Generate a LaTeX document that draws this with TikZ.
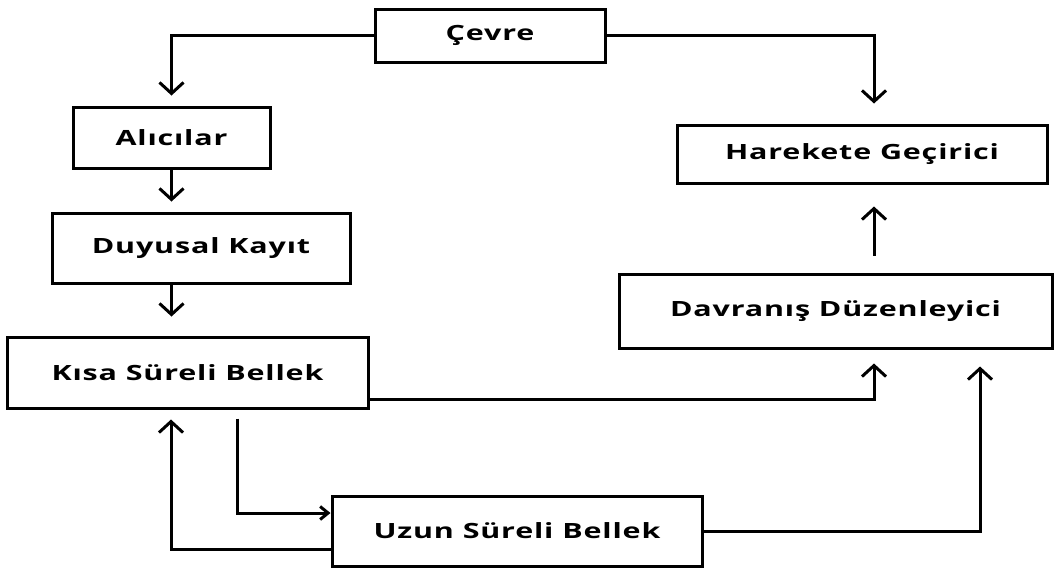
\documentclass[tikz,border=0pt]{standalone}
\usepackage{fontspec}
\setmainfont{Open Sans}[FakeStretch=1.45, LetterSpace=4]
\usetikzlibrary{arrows.meta, positioning, calc}

\begin{document}
\begin{tikzpicture}[
    x=1pt, y=-1pt,
    box/.style={rectangle, draw, line width=3pt, align=center, font=\fontsize{21}{25}\selectfont\bfseries},
    arrow/.style={-{Straight Barb[length=11pt, width=24pt]}, line width=3pt},
    thinarrow/.style={-{Straight Barb[length=8pt, width=13pt]}, line width=3pt},
]
\useasboundingbox (0,0) rectangle (1054,568);
\node[box, minimum width=230pt, minimum height=53pt] (cevre) at (490,35.5) {Çevre};
\node[box, minimum width=197pt, minimum height=61pt] (alici) at (171.5,137.5) {Alıcılar};
\node[box, minimum width=298pt, minimum height=70pt] (duyu) at (201,248) {Duyusal Kayıt};
\node[box, minimum width=361pt, minimum height=71pt] (kisa) at (187.5,372.5) {Kısa Süreli Bellek};
\node[box, minimum width=370pt, minimum height=70pt] (uzun) at (517,531) {Uzun Süreli Bellek};
\node[box, minimum width=370pt, minimum height=58pt] (hareket) at (862,154) {Harekete Geçirici};
\node[box, minimum width=433pt, minimum height=74pt] (davran) at (835.5,311) {Davranış Düzenleyici};
\coordinate (ax) at (874,0);
% left column
\draw[arrow, shorten >=10pt] (cevre.west) -| (alici.north);
\draw[arrow, shorten >=10pt] (alici.south) -- (alici.south |- duyu.north);
\draw[arrow, shorten >=19pt] (alici.south |- duyu.south) -- (alici.south |- kisa.north);
% right column
\draw[arrow, shorten >=20pt] (cevre.east) -| (hareket.north -| ax);
\draw[arrow, shorten <=17pt, shorten >=22pt] (davran.north -| ax) -- (hareket.south -| ax);
\draw[arrow, shorten >=14pt] ([yshift=-26.5pt]kisa.east) -| (davran.south -| ax);
\draw[arrow, shorten >=17pt] (uzun.east) -| ([xshift=144.5pt]davran.south);
% memory loop
\draw[thinarrow, shorten <=9pt] ([xshift=49.5pt]kisa.south) |- ([yshift=18pt]uzun.west);
\draw[arrow, shorten >=10pt] ([yshift=-18pt]uzun.west) -| ([xshift=-16.5pt]kisa.south);
\end{tikzpicture}
\end{document}
